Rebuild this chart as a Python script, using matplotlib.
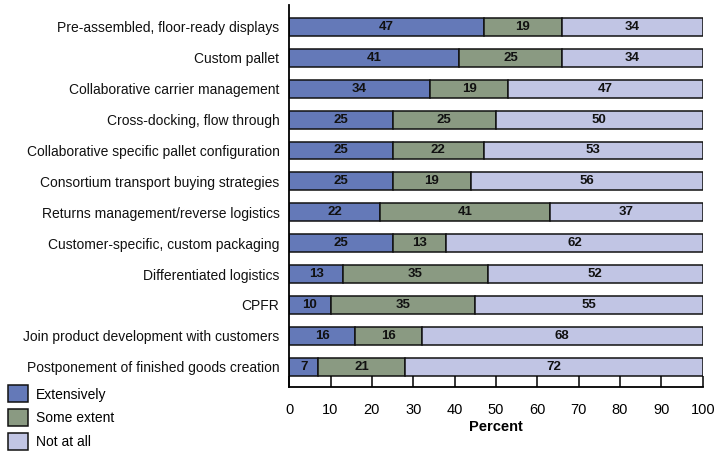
import matplotlib.pyplot as plt
import numpy as np

categories = [
    "Pre-assembled, floor-ready displays",
    "Custom pallet",
    "Collaborative carrier management",
    "Cross-docking, flow through",
    "Collaborative specific pallet configuration",
    "Consortium transport buying strategies",
    "Returns management/reverse logistics",
    "Customer-specific, custom packaging",
    "Differentiated logistics",
    "CPFR",
    "Join product development with customers",
    "Postponement of finished goods creation",
]
extensively = [47, 41, 34, 25, 25, 25, 22, 25, 13, 10, 16, 7]
some_extent = [19, 25, 19, 25, 22, 19, 41, 13, 35, 35, 16, 21]
not_at_all = [34, 34, 47, 50, 53, 56, 37, 62, 52, 55, 68, 72]
series_names = ["Extensively", "Some extent", "Not at all"]
colors = ["#6479b8", "#8a9a82", "#c1c5e4"]
x_ticks = list(range(0, 101, 10))

plt.rcParams["font.family"] = ["Liberation Sans Narrow", "Liberation Sans", "DejaVu Sans"]

fig = plt.figure(figsize=(7.23, 4.54), dpi=100)
ax = fig.add_axes([0.400, 0.148, 0.572, 0.841])

y = np.arange(len(categories))[::-1]
left = np.zeros(len(categories))
handles = []
for name, vals, col in zip(series_names, [extensively, some_extent, not_at_all], colors):
    vals = np.array(vals, dtype=float)
    bars = ax.barh(y, vals, left=left, height=0.58, color=col,
                   edgecolor="#111111", linewidth=1.1, label=name)
    for yi, l, v in zip(y, left, vals):
        ax.text(l + v / 2, yi, f"{int(v)}", ha="center", va="center",
                fontsize=9.5, fontweight="bold", color="#111111")
    handles.append(bars)
    left += vals

ax.set_xlim(0, 100)
ax.set_ylim(-0.65, len(categories) - 1 + 0.71)
ax.set_yticks(y)
ax.set_yticklabels(categories, fontsize=10, color="#111111")
ax.tick_params(axis="y", length=0, pad=7)
ax.set_xticks(x_ticks)
ax.set_xticklabels([str(t) for t in x_ticks], fontsize=10.5)
ax.tick_params(axis="x", direction="in", length=8, width=1.1, pad=12)
ax.set_xlabel("Percent", fontsize=10.5, fontweight="bold", labelpad=2)

for s in ["top", "right"]:
    ax.spines[s].set_visible(False)
ax.spines["left"].set_linewidth(1.3)
ax.spines["bottom"].set_linewidth(1.3)

fig.legend(handles=handles, labels=series_names, loc="lower left",
           bbox_to_anchor=(0.0, -0.01), frameon=False, fontsize=10,
           handlelength=1.45, handleheight=1.5, labelspacing=0.5,
           handletextpad=0.55, borderaxespad=0.2)

fig.savefig("out.png", dpi=100)
